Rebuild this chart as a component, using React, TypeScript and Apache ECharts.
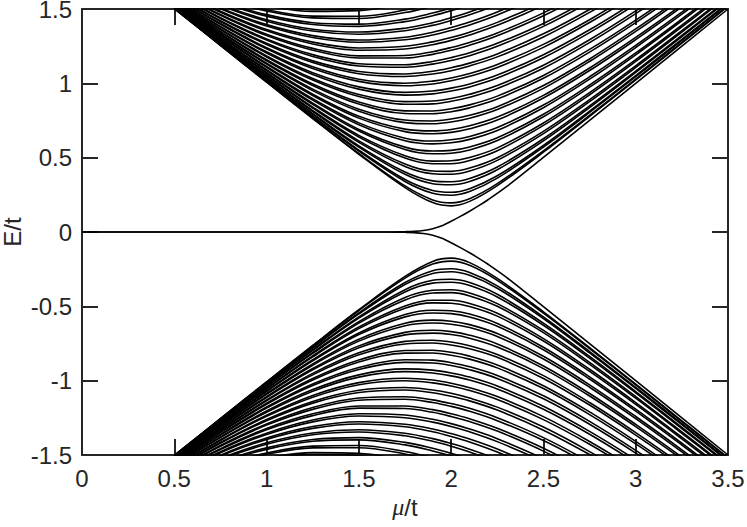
import React, { useEffect, useRef } from "react";
import * as echarts from "echarts";

// chemical potential samples (mu/t) shared by all bulk levels
const MU = [0.5, 0.75, 1, 1.25, 1.5, 1.75, 1.9, 2, 2.1, 2.25, 2.5, 2.75, 3, 3.25, 3.5];

// positive bulk levels E/t read at the MU samples (the negative branch mirrors them)
const LEVELS = [
  [1.503, 1.255, 1.008, 0.763, 0.523, 0.299, 0.198, 0.176, 0.206, 0.312, 0.537, 0.778, 1.023, 1.270, 1.518],
  [1.503, 1.256, 1.010, 0.766, 0.528, 0.310, 0.216, 0.196, 0.224, 0.325, 0.546, 0.784, 1.028, 1.275, 1.522],
  [1.505, 1.259, 1.015, 0.775, 0.544, 0.340, 0.260, 0.247, 0.272, 0.362, 0.571, 0.804, 1.045, 1.289, 1.535],
  [1.506, 1.261, 1.018, 0.779, 0.551, 0.353, 0.279, 0.267, 0.291, 0.378, 0.582, 0.813, 1.052, 1.296, 1.541],
  [1.508, 1.265, 1.025, 0.791, 0.571, 0.388, 0.325, 0.318, 0.340, 0.419, 0.613, 0.837, 1.073, 1.314, 1.558],
  [1.510, 1.267, 1.028, 0.796, 0.579, 0.403, 0.344, 0.338, 0.360, 0.437, 0.627, 0.848, 1.082, 1.322, 1.565],
  [1.513, 1.272, 1.037, 0.810, 0.603, 0.441, 0.392, 0.388, 0.410, 0.482, 0.662, 0.877, 1.107, 1.345, 1.586],
  [1.514, 1.275, 1.041, 0.817, 0.613, 0.457, 0.410, 0.408, 0.430, 0.500, 0.677, 0.890, 1.118, 1.354, 1.594],
  [1.518, 1.281, 1.051, 0.833, 0.639, 0.497, 0.459, 0.459, 0.481, 0.547, 0.717, 0.923, 1.147, 1.380, 1.618],
  [1.519, 1.284, 1.056, 0.840, 0.650, 0.513, 0.477, 0.479, 0.501, 0.566, 0.733, 0.937, 1.159, 1.391, 1.628],
  [1.523, 1.291, 1.068, 0.859, 0.679, 0.555, 0.526, 0.530, 0.552, 0.615, 0.775, 0.974, 1.192, 1.421, 1.656],
  [1.525, 1.295, 1.073, 0.867, 0.690, 0.571, 0.545, 0.549, 0.572, 0.634, 0.792, 0.989, 1.205, 1.433, 1.667],
  [1.530, 1.303, 1.086, 0.887, 0.721, 0.614, 0.593, 0.600, 0.623, 0.683, 0.836, 1.028, 1.241, 1.465, 1.697],
  [1.532, 1.306, 1.092, 0.896, 0.734, 0.631, 0.612, 0.620, 0.643, 0.703, 0.854, 1.044, 1.255, 1.479, 1.709],
  [1.537, 1.316, 1.107, 0.918, 0.766, 0.675, 0.661, 0.670, 0.694, 0.753, 0.901, 1.086, 1.294, 1.514, 1.742],
  [1.539, 1.320, 1.113, 0.927, 0.779, 0.692, 0.680, 0.690, 0.714, 0.773, 0.919, 1.103, 1.309, 1.528, 1.756],
  [1.545, 1.330, 1.129, 0.951, 0.813, 0.736, 0.728, 0.740, 0.765, 0.824, 0.966, 1.147, 1.349, 1.566, 1.791],
  [1.547, 1.334, 1.135, 0.961, 0.826, 0.753, 0.747, 0.760, 0.785, 0.843, 0.985, 1.164, 1.366, 1.581, 1.805],
  [1.554, 1.345, 1.152, 0.986, 0.861, 0.797, 0.795, 0.809, 0.835, 0.894, 1.034, 1.210, 1.408, 1.621, 1.843],
  [1.556, 1.349, 1.159, 0.996, 0.875, 0.815, 0.814, 0.829, 0.855, 0.914, 1.053, 1.228, 1.425, 1.637, 1.858],
  [1.563, 1.361, 1.177, 1.022, 0.911, 0.859, 0.862, 0.879, 0.906, 0.965, 1.102, 1.274, 1.469, 1.678, 1.898],
  [1.566, 1.366, 1.185, 1.033, 0.925, 0.877, 0.881, 0.898, 0.926, 0.985, 1.122, 1.293, 1.487, 1.695, 1.914],
  [1.573, 1.378, 1.204, 1.060, 0.961, 0.921, 0.929, 0.948, 0.976, 1.036, 1.172, 1.341, 1.532, 1.739, 1.955],
  [1.576, 1.383, 1.212, 1.071, 0.976, 0.939, 0.948, 0.968, 0.996, 1.056, 1.192, 1.360, 1.551, 1.756, 1.972],
  [1.584, 1.397, 1.232, 1.099, 1.013, 0.984, 0.996, 1.017, 1.047, 1.107, 1.242, 1.409, 1.597, 1.801, 2.015],
  [1.587, 1.402, 1.240, 1.111, 1.027, 1.001, 1.015, 1.036, 1.066, 1.127, 1.262, 1.428, 1.616, 1.819, 2.032],
  [1.595, 1.416, 1.261, 1.140, 1.065, 1.046, 1.063, 1.085, 1.117, 1.178, 1.312, 1.477, 1.663, 1.865, 2.076],
  [1.599, 1.421, 1.269, 1.151, 1.080, 1.063, 1.081, 1.105, 1.136, 1.198, 1.333, 1.497, 1.682, 1.883, 2.094],
  [1.607, 1.436, 1.291, 1.181, 1.117, 1.108, 1.129, 1.154, 1.186, 1.249, 1.383, 1.547, 1.731, 1.930, 2.140],
  [1.611, 1.442, 1.299, 1.193, 1.132, 1.125, 1.147, 1.173, 1.206, 1.269, 1.403, 1.566, 1.750, 1.949, 2.158],
  [1.620, 1.457, 1.321, 1.223, 1.170, 1.170, 1.195, 1.222, 1.256, 1.320, 1.454, 1.617, 1.799, 1.997, 2.205],
  [1.623, 1.463, 1.330, 1.235, 1.185, 1.187, 1.213, 1.241, 1.275, 1.339, 1.474, 1.637, 1.819, 2.016, 2.223],
  [1.633, 1.478, 1.353, 1.265, 1.223, 1.231, 1.260, 1.289, 1.325, 1.390, 1.525, 1.687, 1.869, 2.065, 2.271],
  [1.636, 1.485, 1.362, 1.277, 1.238, 1.249, 1.279, 1.308, 1.344, 1.410, 1.545, 1.707, 1.888, 2.084, 2.290],
  [1.646, 1.501, 1.385, 1.308, 1.276, 1.293, 1.325, 1.356, 1.393, 1.460, 1.596, 1.758, 1.938, 2.133, 2.338],
  [1.650, 1.507, 1.395, 1.321, 1.291, 1.310, 1.344, 1.375, 1.412, 1.480, 1.617, 1.778, 1.959, 2.153, 2.358],
  [1.660, 1.524, 1.418, 1.352, 1.330, 1.354, 1.390, 1.423, 1.461, 1.529, 1.667, 1.829, 2.009, 2.203, 2.407],
  [1.664, 1.530, 1.428, 1.364, 1.345, 1.371, 1.408, 1.441, 1.480, 1.549, 1.687, 1.849, 2.029, 2.222, 2.426],
  [1.675, 1.547, 1.452, 1.396, 1.383, 1.415, 1.455, 1.489, 1.529, 1.599, 1.738, 1.900, 2.080, 2.273, 2.476],
  [1.679, 1.554, 1.462, 1.408, 1.398, 1.432, 1.473, 1.507, 1.548, 1.618, 1.758, 1.920, 2.100, 2.292, 2.495],
  [1.690, 1.571, 1.486, 1.440, 1.436, 1.476, 1.519, 1.555, 1.596, 1.668, 1.809, 1.972, 2.151, 2.343, 2.546],
  [1.694, 1.578, 1.496, 1.452, 1.451, 1.493, 1.537, 1.573, 1.615, 1.687, 1.828, 1.991, 2.171, 2.363, 2.565],
  [1.705, 1.596, 1.521, 1.484, 1.489, 1.536, 1.582, 1.620, 1.663, 1.736, 1.879, 2.042, 2.222, 2.414, 2.616],
  [1.709, 1.603, 1.530, 1.496, 1.504, 1.552, 1.600, 1.638, 1.681, 1.755, 1.898, 2.062, 2.242, 2.434, 2.635],
];

// edge (Majorana) mode, positive branch
const EDGE_MU = [0, 1.6, 1.7, 1.75, 1.8, 1.85, 1.9, 1.95, 2, 2.05, 2.1, 2.15, 2.2, 2.3, 2.5, 3, 3.5];
const EDGE_E = [0, 0, 0.001, 0.002, 0.004, 0.01, 0.022, 0.042, 0.072, 0.105, 0.14, 0.177, 0.217, 0.305, 0.502, 1.0, 1.5];

const X_MIN = 0, X_MAX = 3.5, X_STEP = 0.5;
const Y_MIN = -1.5, Y_MAX = 1.5, Y_STEP = 0.5;

const AXIS_COLOR = "#262626";
const FONT = "Liberation Sans, Arial, Helvetica, sans-serif";

export default function App() {
  const ref = useRef<HTMLDivElement>(null);

  useEffect(() => {
    if (!ref.current) return;
    const chart = echarts.init(ref.current, undefined, { renderer: "svg" });

    const lineStyle = { color: "#000", width: 1.6 };
    const base = {
      type: "line",
      showSymbol: false,
      symbol: "none",
      smooth: 0.35,
      silent: true,
      clip: true,
      lineStyle,
      xAxisIndex: 0,
      yAxisIndex: 0,
    };
    const series: any[] = [];
    LEVELS.forEach((lv) => {
      series.push({ ...base, data: MU.map((m, i) => [m, lv[i]]) });
      series.push({ ...base, data: MU.map((m, i) => [m, -lv[i]]) });
    });
    series.push({ ...base, smooth: 0.3, data: EDGE_MU.map((m, i) => [m, EDGE_E[i]]) });
    series.push({ ...base, smooth: 0.3, data: EDGE_MU.map((m, i) => [m, -EDGE_E[i]]) });

    const tick = { show: true, inside: true, length: 16, lineStyle: { color: AXIS_COLOR, width: 2 } };
    const axisLine = { show: true, onZero: false, lineStyle: { color: AXIS_COLOR, width: 2 } };
    const label = { fontSize: 24, color: AXIS_COLOR, fontFamily: FONT };

    chart.setOption({
      animation: false,
      backgroundColor: "#fff",
      grid: { left: 82, right: 19, top: 9, bottom: 72, containLabel: false, outerBoundsMode: "none" },
      xAxis: [
        {
          type: "value", position: "bottom", min: X_MIN, max: X_MAX, interval: X_STEP,
          axisLine, axisTick: tick, splitLine: { show: false },
          axisLabel: { ...label, margin: 11 },
          name: "{i|μ}/t", nameLocation: "middle", nameGap: 40,
          nameTextStyle: {
            ...label,
            rich: { i: { fontSize: 24, fontStyle: "italic", color: AXIS_COLOR, fontFamily: "Liberation Serif, serif" } },
          },
        },
        {
          type: "value", position: "top", min: X_MIN, max: X_MAX, interval: X_STEP,
          axisLine, axisTick: tick, splitLine: { show: false }, axisLabel: { show: false },
        },
      ],
      yAxis: [
        {
          type: "value", position: "left", min: Y_MIN, max: Y_MAX, interval: Y_STEP,
          axisLine, axisTick: tick, splitLine: { show: false },
          axisLabel: { ...label, margin: 10 },
          name: "E/t", nameLocation: "middle", nameGap: 58, nameRotate: 90,
          nameMoveOverlap: false,
          nameTextStyle: { ...label },
        },
        {
          type: "value", position: "right", min: Y_MIN, max: Y_MAX, interval: Y_STEP,
          axisLine, axisTick: tick, splitLine: { show: false }, axisLabel: { show: false },
        },
      ],
      series,
    });

    return () => chart.dispose();
  }, []);

  return (
    <div
      ref={ref}
      style={{ position: "fixed", left: 0, top: 0, width: 747, height: 527, background: "#fff" }}
    />
  );
}
